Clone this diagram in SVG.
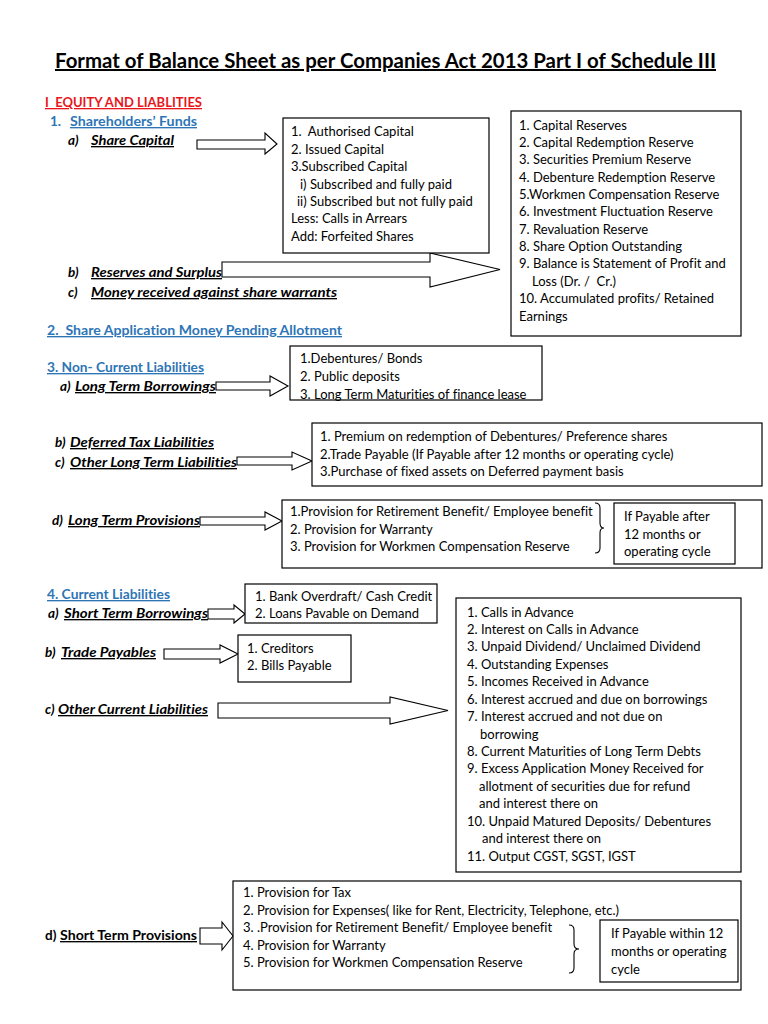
<svg xmlns="http://www.w3.org/2000/svg" width="768" height="1024" viewBox="0 0 768 1024">
<style>
.bg{fill:#ffffff}
.box{fill:#ffffff;stroke:#000;stroke-width:1.2}
.arr{fill:#ffffff;stroke:#000;stroke-width:1.1;stroke-linejoin:miter}
.brace{fill:none;stroke:#000;stroke-width:1.1}
text{font-variant-ligatures:none;white-space:pre}
.t{font-family:Lato,"Liberation Sans",sans-serif;font-size:13px;fill:#000}
.title{font-family:Lato,"Liberation Sans",sans-serif;font-size:20px;font-weight:bold;fill:#000;text-decoration:underline}
.red{font-family:Lato,"Liberation Sans",sans-serif;font-size:13px;font-weight:bold;fill:#e8151b;text-decoration:underline}
.blue{font-family:Lato,"Liberation Sans",sans-serif;font-size:13.5px;font-weight:bold;fill:#2e75b6}
.u{text-decoration:underline}
.bi{font-family:Lato,"Liberation Sans",sans-serif;font-size:13.5px;font-weight:bold;font-style:italic;fill:#000}
.b{font-family:Lato,"Liberation Sans",sans-serif;font-size:13.5px;font-weight:bold;fill:#000}
</style>
<rect class="bg" x="0" y="0" width="768" height="1024"/>

<g id="title">
<text class="title" x="55" y="68" textLength="661" lengthAdjust="spacingAndGlyphs">Format of Balance Sheet as per Companies Act 2013 Part I of Schedule III</text>
</g>

<g id="headings">
<text class="red" x="45" y="107" textLength="157" lengthAdjust="spacingAndGlyphs">I  EQUITY AND LIABLITIES</text>
<text class="blue" x="50" y="126">1.</text>
<text class="blue u" x="70" y="126" textLength="127" lengthAdjust="spacingAndGlyphs">Shareholders’ Funds</text>
<text class="bi" x="68" y="145">a)</text>
<text class="bi u" x="91" y="145" textLength="83" lengthAdjust="spacingAndGlyphs">Share Capital</text>
<text class="bi" x="68" y="277">b)</text>
<text class="bi u" x="91" y="277" textLength="131" lengthAdjust="spacingAndGlyphs">Reserves and Surplus</text>
<text class="bi" x="68" y="297">c)</text>
<text class="bi u" x="91" y="297" textLength="246" lengthAdjust="spacingAndGlyphs">Money received against share warrants</text>
<text class="blue u" x="47" y="335" textLength="295" lengthAdjust="spacingAndGlyphs">2.  Share Application Money Pending Allotment</text>
<text class="blue u" x="47" y="372" textLength="157" lengthAdjust="spacingAndGlyphs">3. Non- Current Liabilities</text>
<text class="bi" x="60" y="391">a)</text>
<text class="bi u" x="75" y="391" textLength="141" lengthAdjust="spacingAndGlyphs">Long Term Borrowings</text>
<text class="bi" x="55" y="447">b)</text>
<text class="bi u" x="70" y="447" textLength="144" lengthAdjust="spacingAndGlyphs">Deferred Tax Liabilities</text>
<text class="bi" x="55" y="467">c)</text>
<text class="bi u" x="70" y="467" textLength="167" lengthAdjust="spacingAndGlyphs">Other Long Term Liabilities</text>
<text class="bi" x="52" y="525">d)</text>
<text class="bi u" x="68" y="525" textLength="132" lengthAdjust="spacingAndGlyphs">Long Term Provisions</text>
<text class="blue u" x="47" y="599" textLength="123" lengthAdjust="spacingAndGlyphs">4. Current Liabilities</text>
<text class="bi" x="48" y="618">a)</text>
<text class="bi u" x="64" y="618" textLength="144" lengthAdjust="spacingAndGlyphs">Short Term Borrowings</text>
<text class="bi" x="45" y="657">b)</text>
<text class="bi u" x="61" y="657" textLength="95" lengthAdjust="spacingAndGlyphs">Trade Payables</text>
<text class="bi" x="45" y="714">c)</text>
<text class="bi u" x="58" y="714" textLength="150" lengthAdjust="spacingAndGlyphs">Other Current Liabilities</text>
<text class="b" x="45" y="940">d)</text>
<text class="b u" x="60" y="940" textLength="137" lengthAdjust="spacingAndGlyphs">Short Term Provisions</text>
</g>

<g id="connectors">
<polygon class="arr" points="197,140 265,140 265,133 277,144 265,154 265,149 197,149"/>
<polygon class="arr" points="222,262 430,262 430,253 500,269.5 430,287 430,277 222,277"/>
<polygon class="arr" points="216,382 270,382 270,376 288,386 270,396 270,390 216,390"/>
<polygon class="arr" points="237,457 292,457 292,452 312,461 292,470 292,465 237,465"/>
<polygon class="arr" points="200,517 265,517 265,512 282,521 265,530 265,525 200,525"/>
<polygon class="arr" points="208,609 234,609 234,605 245,614 234,623 234,619 208,619"/>
<polygon class="arr" points="164,649 220,649 220,645 238,654 220,663 220,659 164,659"/>
<polygon class="arr" points="218,703 390,703 390,697 448,710.5 390,724 390,718 218,718"/>
<polygon class="arr" points="200,928 222,928 222,922 233,936 222,950 222,944 200,944"/>
</g>

<g id="share-capital-box">
<rect class="box" x="283" y="118" width="206" height="135"/>
<text class="t" x="291" y="136">1.  Authorised Capital</text>
<text class="t" x="291" y="153.5">2. Issued Capital</text>
<text class="t" x="291" y="171">3.Subscribed Capital</text>
<text class="t" x="300" y="188.5">i) Subscribed and fully paid</text>
<text class="t" x="297" y="206">ii) Subscribed but not fully paid</text>
<text class="t" x="291" y="223">Less: Calls in Arrears</text>
<text class="t" x="291" y="240.5">Add: Forfeited Shares</text>
</g>

<g id="reserves-box">
<rect class="box" x="511" y="111" width="230" height="225"/>
<text class="t" x="519" y="129.5">1. Capital Reserves</text>
<text class="t" x="519" y="147">2. Capital Redemption Reserve</text>
<text class="t" x="519" y="164.2">3. Securities Premium Reserve</text>
<text class="t" x="519" y="181.6">4. Debenture Redemption Reserve</text>
<text class="t" x="519" y="199">5.Workmen Compensation Reserve</text>
<text class="t" x="519" y="216.3">6. Investment Fluctuation Reserve</text>
<text class="t" x="519" y="233.7">7. Revaluation Reserve</text>
<text class="t" x="519" y="251">8. Share Option Outstanding</text>
<text class="t" x="519" y="268.4">9. Balance is Statement of Profit and</text>
<text class="t" x="532" y="285.8">Loss (Dr. /  Cr.)</text>
<text class="t" x="519" y="303.2">10. Accumulated profits/ Retained</text>
<text class="t" x="519" y="320.5">Earnings</text>
</g>

<g id="long-term-borrowings-box">
<rect class="box" x="290" y="346" width="252" height="54"/>
<text class="t" x="300" y="363">1.Debentures/ Bonds</text>
<text class="t" x="300" y="381">2. Public deposits</text>
<text class="t" x="300" y="399">3. Long Term Maturities of finance lease</text>
</g>

<g id="other-long-term-box">
<rect class="box" x="312" y="423" width="450" height="63"/>
<text class="t" x="320" y="441">1. Premium on redemption of Debentures/ Preference shares</text>
<text class="t" x="320" y="458.5">2.Trade Payable (If Payable after 12 months or operating cycle)</text>
<text class="t" x="320" y="476">3.Purchase of fixed assets on Deferred payment basis</text>
</g>

<g id="long-term-provisions-box">
<rect class="box" x="282" y="500" width="480" height="68"/>
<text class="t" x="290" y="516">1.Provision for Retirement Benefit/ Employee benefit</text>
<text class="t" x="290" y="533.5">2. Provision for Warranty</text>
<text class="t" x="290" y="551">3. Provision for Workmen Compensation Reserve</text>
<path class="brace" d="M595,503 Q600,503 600,508 L600,523 Q600,528 604,528 Q600,528 600,533 L600,548 Q600,553 595,553"/>
<rect class="box" x="614" y="503" width="121" height="61"/>
<text class="t" x="624" y="521">If Payable after</text>
<text class="t" x="624" y="538.5">12 months or</text>
<text class="t" x="624" y="556">operating cycle</text>
</g>

<g id="short-term-borrowings-box">
<rect class="box" x="245" y="584" width="192" height="39"/>
<text class="t" x="255" y="601">1. Bank Overdraft/ Cash Credit</text>
<text class="t" x="255" y="618">2. Loans Pavable on Demand</text>
</g>

<g id="trade-payables-box">
<rect class="box" x="238" y="635" width="113" height="47"/>
<text class="t" x="247" y="653">1. Creditors</text>
<text class="t" x="247" y="670">2. Bills Payable</text>
</g>

<g id="other-current-box">
<rect class="box" x="456" y="598" width="285" height="274"/>
<text class="t" x="467" y="616.5">1. Calls in Advance</text>
<text class="t" x="467" y="633.9">2. Interest on Calls in Advance</text>
<text class="t" x="467" y="651.4">3. Unpaid Dividend/ Unclaimed Dividend</text>
<text class="t" x="467" y="668.8">4. Outstanding Expenses</text>
<text class="t" x="467" y="686.2">5. Incomes Received in Advance</text>
<text class="t" x="467" y="703.7">6. Interest accrued and due on borrowings</text>
<text class="t" x="467" y="721.1">7. Interest accrued and not due on</text>
<text class="t" x="480" y="738.5">borrowing</text>
<text class="t" x="467" y="755.9">8. Current Maturities of Long Term Debts</text>
<text class="t" x="467" y="773.4">9. Excess Application Money Received for</text>
<text class="t" x="479" y="790.8">allotment of securities due for refund</text>
<text class="t" x="479" y="808.2">and interest there on</text>
<text class="t" x="467" y="825.7">10. Unpaid Matured Deposits/ Debentures</text>
<text class="t" x="482" y="843.1">and interest there on</text>
<text class="t" x="467" y="860.5">11. Output CGST, SGST, IGST</text>
</g>

<g id="short-term-provisions-box">
<rect class="box" x="233" y="881" width="508" height="109"/>
<text class="t" x="243" y="897">1. Provision for Tax</text>
<text class="t" x="243" y="915">2. Provision for Expenses( like for Rent, Electricity, Telephone, etc.)</text>
<text class="t" x="243" y="932">3. .Provision for Retirement Benefit/ Employee benefit</text>
<text class="t" x="243" y="950">4. Provision for Warranty</text>
<text class="t" x="243" y="967">5. Provision for Workmen Compensation Reserve</text>
<path class="brace" d="M569,925 Q574,925 574,930 L574,944 Q574,949 579,949 Q574,949 574,954 L574,968 Q574,973 569,973"/>
<rect class="box" x="600" y="920" width="138" height="62"/>
<text class="t" x="611" y="938">If Payable within 12</text>
<text class="t" x="611" y="956">months or operating</text>
<text class="t" x="611" y="974">cycle</text>
</g>
</svg>
